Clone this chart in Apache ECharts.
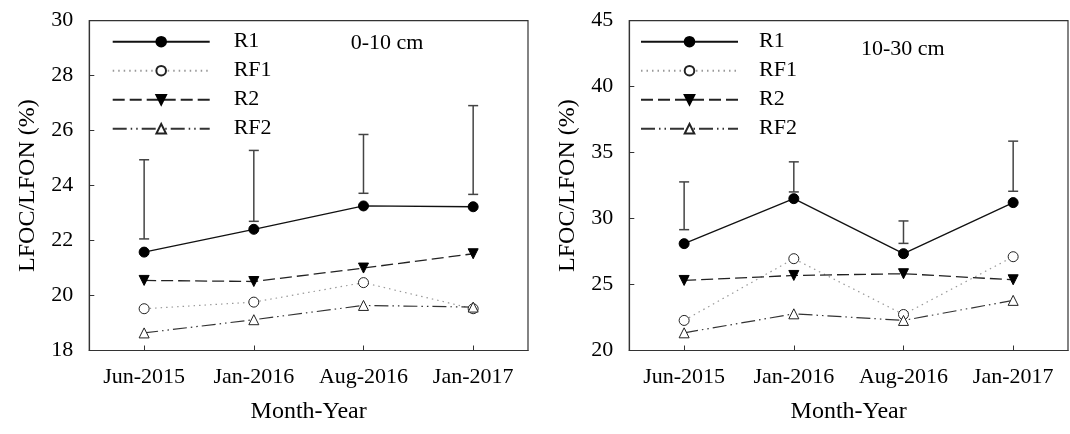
<!DOCTYPE html>
<html>
<head>
<meta charset="utf-8">
<script src="https://cdn.jsdelivr.net/npm/echarts@6/dist/echarts.min.js"></script>
<style>
html,body{margin:0;padding:0;background:#fff;}
#chart{width:1070px;height:434px;}
</style>
</head>
<body>
<div id="chart"></div>
<script>
const categories = ['Jun-2015', 'Jan-2016', 'Aug-2016', 'Jan-2017'];
const seriesNames = ['R1', 'RF1', 'R2', 'RF2'];

// Panel A: 0-10 cm
const r1_0_10  = [21.58, 22.41, 23.26, 23.23];
const rf1_0_10 = [19.52, 19.76, 20.47, 19.52];
const r2_0_10  = [20.55, 20.51, 21.00, 21.52];
const rf2_0_10 = [18.64, 19.12, 19.64, 19.58];
const errLow_0_10  = [22.06, 22.70, 23.72, 23.68];
const errHigh_0_10 = [24.94, 25.28, 25.86, 26.91];

// Panel B: 10-30 cm
const r1_10_30  = [28.10, 31.51, 27.34, 31.21];
const rf1_10_30 = [22.28, 26.96, 22.73, 27.11];
const r2_10_30  = [25.31, 25.69, 25.82, 25.36];
const rf2_10_30 = [21.34, 22.78, 22.28, 23.80];
const errLow_10_30  = [29.16, 32.02, 28.12, 32.07];
const errHigh_10_30 = [32.78, 34.30, 29.82, 35.87];

const yTicksA = {min: 18, max: 30, interval: 2};
const yTicksB = {min: 20, max: 45, interval: 5};

const FONT = 'Liberation Serif, Times New Roman, serif';
const AX = '#333';

const styles = {
  R1:  {lineStyle: {color: '#111', width: 1.3, type: 'solid'}, symbol: 'circle', symbolSize: 10, symbolRotate: 0,
        itemStyle: {color: '#000', borderColor: '#000', borderWidth: 1}},
  RF1: {lineStyle: {color: '#999', width: 1.2, type: [1.5, 4]}, symbol: 'circle', symbolSize: 10, symbolRotate: 0,
        itemStyle: {color: '#fff', borderColor: '#222', borderWidth: 1}},
  R2:  {lineStyle: {color: '#222', width: 1.3, type: [12, 5]}, symbol: 'triangle', symbolSize: 10, symbolRotate: 180,
        itemStyle: {color: '#000', borderColor: '#000', borderWidth: 1}},
  RF2: {lineStyle: {color: '#333', width: 1.2, type: [14, 4, 1.5, 4, 1.5, 4]}, symbol: 'triangle', symbolSize: 10, symbolRotate: 0,
        itemStyle: {color: '#fff', borderColor: '#222', borderWidth: 1}}
};

function lineSeries(name, data, idx) {
  const s = styles[name];
  return Object.assign({
    type: 'line', name: name, data: data, xAxisIndex: idx, yAxisIndex: idx,
    showSymbol: true, animation: false, z: 3,
    emphasis: {disabled: true}
  }, JSON.parse(JSON.stringify(s)));
}

function errSeries(lo, hi, idx) {
  return {
    type: 'custom', name: 'err' + idx, xAxisIndex: idx, yAxisIndex: idx, animation: false, z: 2,
    data: categories.map((c, i) => [i, lo[i], hi[i]]),
    renderItem: function (params, api) {
      const x = api.value(0);
      const a = api.coord([x, api.value(1)]);
      const b = api.coord([x, api.value(2)]);
      const hw = 5;
      const st = {stroke: '#444', lineWidth: 1.5};
      return {type: 'group', children: [
        {type: 'line', shape: {x1: a[0], y1: a[1], x2: b[0], y2: b[1]}, style: st},
        {type: 'line', shape: {x1: a[0] - hw, y1: a[1], x2: a[0] + hw, y2: a[1]}, style: st},
        {type: 'line', shape: {x1: b[0] - hw, y1: b[1], x2: b[0] + hw, y2: b[1]}, style: st}
      ]};
    }
  };
}

function xAxisCfg(idx) {
  return {
    type: 'category', gridIndex: idx, data: categories, boundaryGap: true,
    name: 'Month-Year', nameLocation: 'middle', nameGap: 49,
    nameTextStyle: {fontFamily: FONT, fontSize: 24, color: '#000'},
    axisLine: {show: true, lineStyle: {color: AX, width: 1.2}},
    axisTick: {show: true, inside: true, length: 5, alignWithLabel: true, interval: 0, lineStyle: {color: AX}},
    axisLabel: {fontFamily: FONT, fontSize: 22, color: '#000', margin: 16, interval: 0, hideOverlap: false},
    splitLine: {show: false}
  };
}
function yAxisCfg(idx, t) {
  return {
    type: 'value', gridIndex: idx, min: t.min, max: t.max, interval: t.interval,
    name: 'LFOC/LFON (%)', nameLocation: 'middle', nameGap: 50,
    nameTextStyle: {fontFamily: FONT, fontSize: 24, color: '#000'},
    axisLine: {show: true, lineStyle: {color: AX, width: 1.2}},
    axisTick: {show: true, inside: true, length: 5, lineStyle: {color: AX}},
    axisLabel: {fontFamily: FONT, fontSize: 22, color: '#000', margin: 16},
    splitLine: {show: false}
  };
}
function legendCfg(left, textPad) {
  return {
    data: seriesNames, orient: 'vertical', left: left, top: 30.7, padding: 0,
    itemWidth: 97, itemHeight: 12, itemGap: 7, selectedMode: false,
    textStyle: {fontFamily: FONT, fontSize: 22, color: '#000', lineHeight: 22, padding: [0, 0, 0, textPad]}
  };
}

const option = {
  backgroundColor: '#fff',
  animation: false,
  grid: [
    {left: 89.3, right: 542, top: 20.7, bottom: 83.5, show: true, borderColor: AX, borderWidth: 1.2, backgroundColor: 'transparent'},
    {left: 629.3, right: 2, top: 20.7, bottom: 83.5, show: true, borderColor: AX, borderWidth: 1.2, backgroundColor: 'transparent'}
  ],
  xAxis: [xAxisCfg(0), xAxisCfg(1)],
  yAxis: [yAxisCfg(0, yTicksA), yAxisCfg(1, yTicksB)],
  legend: [legendCfg(111.7, 19), legendCfg(640, 16)],
  graphic: [
    {type: 'text', left: 350.7, top: 32, style: {text: '0-10 cm', font: '22px ' + FONT, fill: '#000'}},
    {type: 'text', left: 861, top: 38.5, style: {text: '10-30 cm', font: '22px ' + FONT, fill: '#000'}}
  ],
  series: [
    errSeries(errLow_0_10, errHigh_0_10, 0),
    lineSeries('R1', r1_0_10, 0),
    lineSeries('RF1', rf1_0_10, 0),
    lineSeries('R2', r2_0_10, 0),
    lineSeries('RF2', rf2_0_10, 0),
    errSeries(errLow_10_30, errHigh_10_30, 1),
    lineSeries('R1', r1_10_30, 1),
    lineSeries('RF1', rf1_10_30, 1),
    lineSeries('R2', r2_10_30, 1),
    lineSeries('RF2', rf2_10_30, 1)
  ]
};

const chart = echarts.init(document.getElementById('chart'), null, {renderer: 'canvas'});
chart.setOption(option);
</script>
</body>
</html>
